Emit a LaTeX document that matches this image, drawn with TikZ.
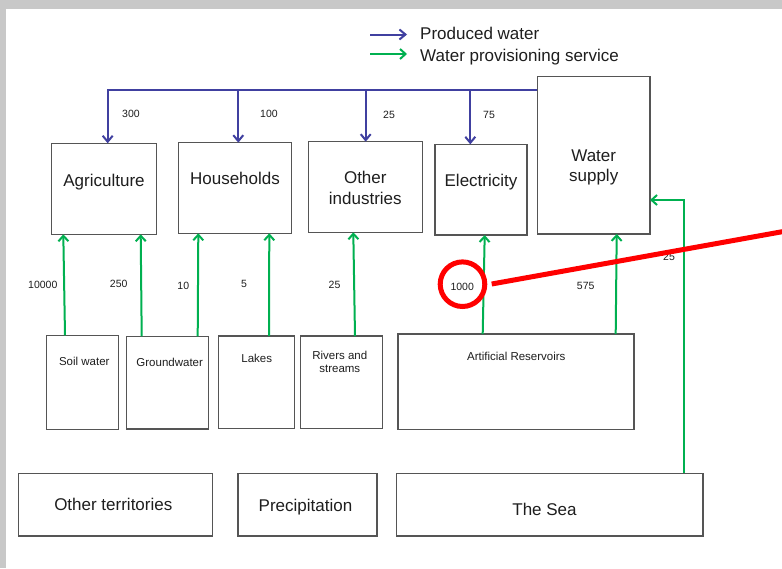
\documentclass[tikz,border=0pt]{standalone}
\usepackage{fontspec}
\setmainfont{Liberation Sans}
\usetikzlibrary{arrows.meta}
\definecolor{pblue}{RGB}{64,64,160}
\definecolor{pgreen}{RGB}{0,176,80}
\definecolor{bord}{RGB}{85,85,85}
\definecolor{framegray}{RGB}{200,200,200}
\definecolor{txt}{RGB}{30,30,30}
\begin{document}
\begin{tikzpicture}[x=1pt,y=-1pt,
  box/.style={draw=bord, line width=1.3pt, inner sep=0pt, outer sep=0pt, rectangle},
  big/.style={font=\fontsize{17}{20.5}\selectfont, anchor=base, inner sep=0pt, text=txt, align=center},
  small/.style={font=\fontsize{11.5}{13}\selectfont, anchor=base, inner sep=0pt, text=txt, align=center},
  num/.style={font=\fontsize{10.5}{12}\selectfont, anchor=base, inner sep=0pt, text=txt},
  barrow/.style={draw=pblue, line width=2pt, -{Straight Barb[length=6pt,width=10pt]}},
  garrow/.style={draw=pgreen, line width=2pt, -{Straight Barb[length=5.5pt,width=10pt]}},
]
\useasboundingbox (0,0) rectangle (782,568);
\clip (0,0) rectangle (782,568);
\fill[framegray] (0,0) rectangle (782,568);
\fill[white] (6,9) rectangle (782,568);

% legend
\coordinate (lb1) at (370,34.5);
\coordinate (lb2) at (407,34.5);
\coordinate (lg1) at (370,54);
\coordinate (lg2) at (407,54);
\draw[barrow] (lb1) -- (lb2);
\draw[garrow] (lg1) -- (lg2);
\node[big, anchor=base west] (legb) at (420,39.5) {Produced water};
\node[big, anchor=base west] (legg) at (420,61.5) {Water provisioning service};

% user boxes
\node[box, minimum width=105.4pt, minimum height=91pt] (agri) at (104,188.8) {};
\node[box, minimum width=113.4pt, minimum height=90.6pt] (hh) at (235,188) {};
\node[box, minimum width=114pt, minimum height=90.6pt] (oi) at (365.3,187) {};
\node[box, minimum width=92pt, minimum height=90.7pt] (el) at (481,189.7) {};
\node[box, minimum width=112.7pt, minimum height=157.3pt] (ws) at (593.7,155.3) {};

\node[big] (tagri) at (104,186) {Agriculture};
\node[big] (thh) at (235,184.3) {Households};
\node[big, font=\fontsize{17}{21}\selectfont] (toi) at (365.3,204.3) {Other\\industries};
\node[big] (tel) at (481,186) {Electricity};
\node[big, font=\fontsize{17}{20}\selectfont] (tws) at (593.7,181.7) {Water\\supply};

% source boxes
\node[box, minimum width=72pt, minimum height=94pt] (soil) at (82.7,382.3) {};
\node[box, minimum width=82.4pt, minimum height=92.7pt] (gw) at (167.5,382.7) {};
\node[box, minimum width=76pt, minimum height=92.3pt] (lakes) at (256.3,382.2) {};
\node[box, minimum width=82.4pt, minimum height=92.3pt] (riv) at (341.5,382.2) {};
\node[box, minimum width=236pt, minimum height=95.3pt] (ar) at (516,381.7) {};

\node[small] (tsoil) at (84.3,365) {Soil water};
\node[small] (tgw) at (169.7,366) {Groundwater};
\node[small] (tlakes) at (256.8,362.7) {Lakes};
\node[small] (triv) at (339.8,372) {Rivers and\\streams};
\node[small] (tar) at (516.3,360.7) {Artificial Reservoirs};

% bottom boxes
\node[box, minimum width=194pt, minimum height=62.7pt] (ot) at (115.5,504.7) {};
\node[box, minimum width=139pt, minimum height=62.7pt] (prec) at (307.5,504.7) {};
\node[box, minimum width=306.5pt, minimum height=62.7pt] (sea) at (549.8,504.7) {};

\node[big] (tot) at (113.3,510) {Other territories};
\node[big] (tprec) at (305.5,511) {Precipitation};
\node[big] (tsea) at (544.5,515) {The Sea};

% produced water (blue)
\coordinate (bus) at ([yshift=65.3pt]ws.west);
\coordinate (inagri) at ([xshift=3.7pt]agri.north);
\coordinate (inhh) at ([xshift=3.3pt]hh.north);
\coordinate (inoi) at ([xshift=0.4pt]oi.north);
\coordinate (inel) at ([xshift=-10.7pt]el.north);
\draw[barrow] (bus) -| (inagri);
\draw[barrow] (bus -| inhh) -- (inhh);
\draw[barrow] (bus -| inoi) -- (inoi);
\draw[barrow] (bus -| inel) -- (inel);
\node[num] (n300) at (131,117.7) {300};
\node[num] (n100) at (269,117.7) {100};
\node[num] (n25a) at (389,118.3) {25};
\node[num] (n75) at (489,118.3) {75};

% water provisioning (green)
\draw[garrow] ([xshift=-17.7pt]soil.north) -- ([xshift=-40.7pt]agri.south);
\draw[garrow] ([xshift=-25.8pt]gw.north) -- ([xshift=36.7pt]agri.south);
\draw[garrow] ([xshift=30.2pt]gw.north) -- ([xshift=-36.7pt]hh.south);
\draw[garrow] ([xshift=12.7pt]lakes.north) -- ([xshift=34.3pt]hh.south);
\draw[garrow] ([xshift=13.5pt]riv.north) -- ([xshift=-12pt]oi.south);
\draw[garrow] ([xshift=-33.3pt]ar.north) -- ([xshift=3.7pt]el.south);
\draw[garrow] ([xshift=99.7pt]ar.north) -- ([xshift=23pt]ws.south);
\draw[garrow] ([xshift=134.2pt]sea.north) |- ([yshift=-44.7pt]ws.east);

\node[num] (n10000) at (42.8,288.3) {10000};
\node[num] (n250) at (118.7,287.7) {250};
\node[num] (n10) at (183.3,289.3) {10};
\node[num] (n5) at (244,287.3) {5};
\node[num] (n25b) at (334.5,288.3) {25};
\node[num] (n1000) at (462.2,290.7) {1000};
\node[num] (n575) at (585.7,289.3) {575};
\node[num] (n25c) at (669,260) {25};

% red highlight
\node[draw=red, line width=5pt, circle, inner sep=0pt, minimum size=44.6pt] (hl) at (462.5,284.2) {};
\coordinate (rs) at (491.7,284);
\coordinate (re) at (800,228.5);
\draw[red, line width=5pt] (rs) -- (re);
\end{tikzpicture}
\end{document}
